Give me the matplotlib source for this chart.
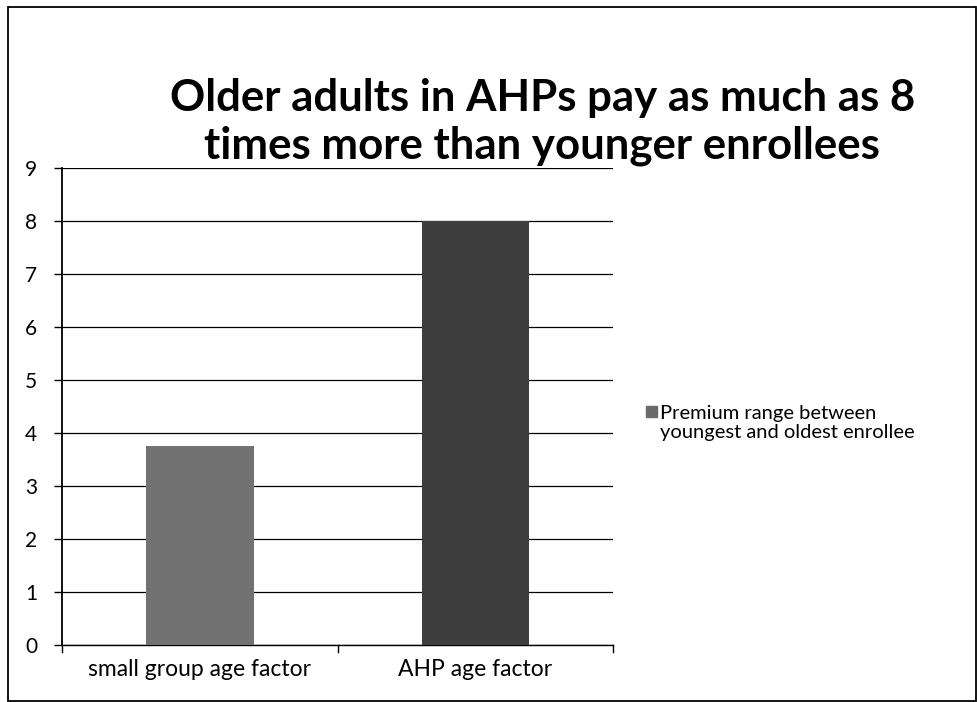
import matplotlib
matplotlib.use("Agg")
import matplotlib.pyplot as plt
from matplotlib.patches import Rectangle

categories = ["small group age factor", "AHP age factor"]
values = [3.75, 8.0]
bar_colors = ["#727272", "#3e3e3e"]
yticks = [0, 1, 2, 3, 4, 5, 6, 7, 8, 9]
title = "Older adults in AHPs pay as much as 8\ntimes more than younger enrollees"
legend_label = "Premium range between\nyoungest and oldest enrollee"

plt.rcParams["font.family"] = ["Lato", "DejaVu Sans"]

fig = plt.figure(figsize=(9.77, 7.02), dpi=100)
ax = fig.add_axes([0.0635, 0.081, 0.564, 0.680])

x = list(range(len(categories)))
ax.bar(x, values, width=0.39, color=bar_colors, zorder=3)

ax.set_xlim(-0.5, len(categories) - 0.5)
ax.set_ylim(0, 9)
ax.set_yticks(yticks)
ax.set_yticklabels([str(t) for t in yticks], fontsize=15)
ax.set_xticks(x)
ax.set_xticklabels(categories, fontsize=16.5)
ax.tick_params(axis="x", length=0, pad=10)
ax.tick_params(axis="y", length=6, width=1, direction="out", pad=12)

# category separator ticks below the x axis
for b in [-0.5, 0.5, 1.5]:
    ax.plot([b, b], [0, -0.12], color="black", lw=1, clip_on=False, zorder=4)

ax.yaxis.grid(True, color="black", lw=0.9, zorder=1)
ax.set_axisbelow(True)
for s in ["top", "right"]:
    ax.spines[s].set_visible(False)
ax.spines["left"].set_linewidth(1.3)
ax.spines["bottom"].set_linewidth(1.0)

fig.text(0.555, 1 - 122 / 702, title, ha="center", va="center", fontsize=31.5,
         fontweight="bold", linespacing=1.2)

# legend entry on the right
fig.patches.append(Rectangle((646 / 977, 1 - 417 / 702), 11 / 977, 11 / 702,
                             transform=fig.transFigure, color="#6a6a6a"))
fig.text(660 / 977, 1 - 423 / 702, legend_label, ha="left", va="center",
         fontsize=14.5, linespacing=1.2)

# outer chart frame
fig.patches.append(Rectangle((8 / 977, 0.002), 968 / 977, 1 - 7 / 702 - 0.002,
                             transform=fig.transFigure, fill=False,
                             edgecolor="black", lw=1.3))

fig.savefig("out.png", dpi=100)
